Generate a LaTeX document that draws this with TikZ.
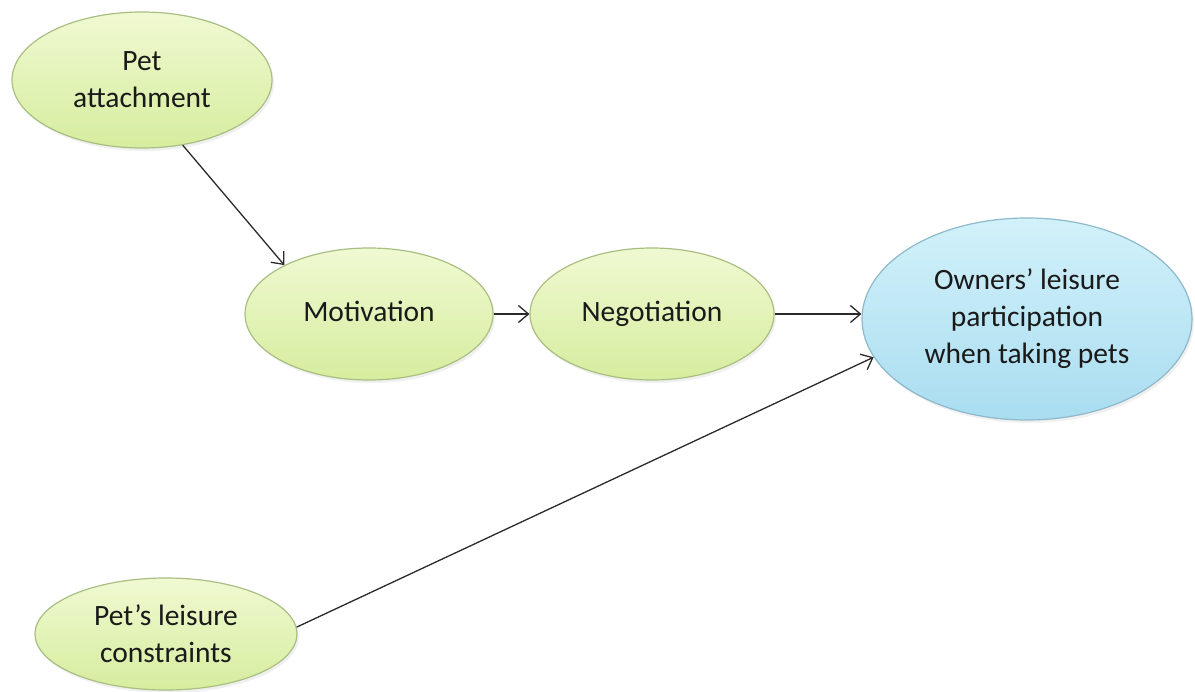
\documentclass[tikz,border=0pt]{standalone}
\usepackage{fontspec}
\setmainfont{Carlito}
\usetikzlibrary{shapes.geometric,arrows.meta,shadows}
\definecolor{gtop}{HTML}{F0F9D2}
\definecolor{gbot}{HTML}{D6ED9E}
\definecolor{gdraw}{HTML}{A9BF82}
\definecolor{btop}{HTML}{D2F1FA}
\definecolor{bbot}{HTML}{A9DDF0}
\definecolor{bdraw}{HTML}{8DB9CB}
\definecolor{txt}{HTML}{1A1A1A}
\definecolor{arr}{HTML}{2A2A2A}
\tikzset{
  bubble/.style={ellipse, inner sep=0pt, align=center, text=txt,
    font=\fontsize{29.5}{37}\selectfont, line width=1.2pt,
    drop shadow={opacity=0.12, shadow xshift=2pt, shadow yshift=-3pt}},
  greenb/.style={bubble, draw=gdraw, top color=gtop, bottom color=gbot},
  blueb/.style={bubble, draw=bdraw, top color=btop, bottom color=bbot},
  conn/.style={draw=arr, line width=1.3pt, -{Straight Barb[length=10pt,width=17pt,line width=1.3pt]}}
}
\begin{document}
\begin{tikzpicture}[x=1pt,y=-1pt]
\useasboundingbox (0,0) rectangle (1195,692);
\node[greenb, minimum width=260pt, minimum height=136pt] (pa) at (142,80) {Pet\\attachment};
\node[greenb, minimum width=248pt, minimum height=132pt] (mot) at (369,314) {Motivation\strut};
\node[greenb, minimum width=244pt, minimum height=132pt] (neg) at (652,314) {Negotiation\strut};
\node[blueb, minimum width=330pt, minimum height=202pt] (own) at (1027,319) {Owners’ leisure\\participation\\when taking pets};
\node[greenb, minimum width=262pt, minimum height=112pt] (pl) at (166,634) {Pet’s leisure\\constraints};
\draw[conn] (pa.-58) -- (mot.150);
\draw[conn] (mot.east) -- (neg.west);
\draw[conn] (neg.east) -- (neg.east -| own.west);
\draw[conn] (pl.3) -- (own.194);
\end{tikzpicture}
\end{document}
